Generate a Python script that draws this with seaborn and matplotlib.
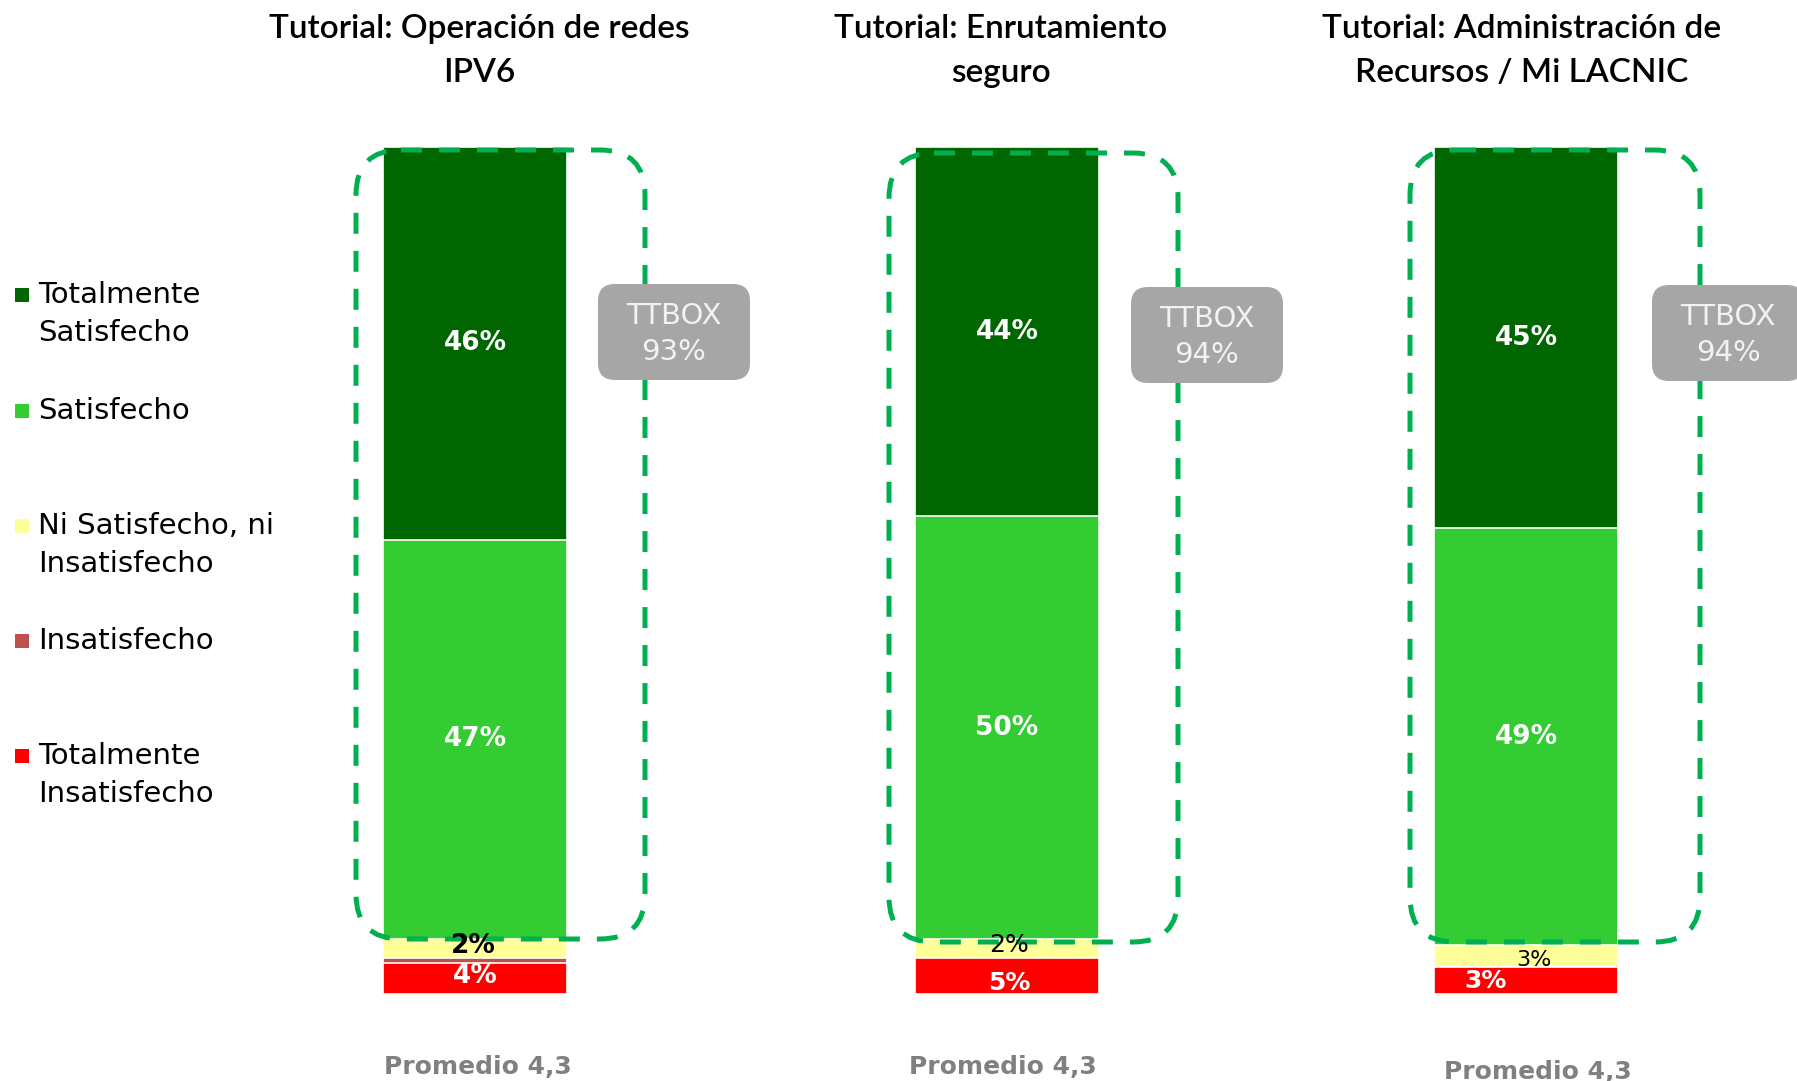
import matplotlib
matplotlib.use("Agg")
import numpy as np
import pandas as pd
import seaborn as sns
import matplotlib.pyplot as plt
from matplotlib.patches import FancyBboxPatch, Rectangle
from matplotlib.transforms import Affine2D, ScaledTranslation

# ---------------- data ----------------
tutorials = [
    "Tutorial: Operación de redes\nIPV6",
    "Tutorial: Enrutamiento\nseguro",
    "Tutorial: Administración de\nRecursos / Mi LACNIC",
]
categories = [
    "Totalmente\nSatisfecho",
    "Satisfecho",
    "Ni Satisfecho, ni\nInsatisfecho",
    "Insatisfecho",
    "Totalmente\nInsatisfecho",
]
# segment shares (%)
totalmente_satisfecho = [46.3, 43.6, 45.0]
satisfecho = [47.1, 49.9, 49.2]
ni_satisfecho_ni_insatisfecho = [2.2, 2.2, 2.6]
insatisfecho = [0.6, 0.0, 0.0]
totalmente_insatisfecho = [3.7, 4.3, 3.2]
# printed labels on the segments ("" = no label)
labels_totalmente_satisfecho = ["46%", "44%", "45%"]
labels_satisfecho = ["47%", "50%", "49%"]
labels_ni = ["2%", "2%", "3%"]
labels_insatisfecho = ["", "", ""]
labels_totalmente_insatisfecho = ["4%", "5%", "3%"]
ttbox = ["93%", "94%", "94%"]
promedio = ["4,3", "4,3", "4,3"]

colors = ["#006600", "#33CC33", "#FFFF99", "#C0504D", "#FF0000"]

series = [totalmente_satisfecho, satisfecho, ni_satisfecho_ni_insatisfecho,
          insatisfecho, totalmente_insatisfecho]
label_series = [labels_totalmente_satisfecho, labels_satisfecho, labels_ni,
                labels_insatisfecho, labels_totalmente_insatisfecho]

rows = []
for t_i, tut in enumerate(tutorials):
    for c_i, cat in enumerate(categories):
        rows.append(dict(tutorial=tut, categoria=cat, valor=series[c_i][t_i],
                         etiqueta=label_series[c_i][t_i]))
df = pd.DataFrame(rows)

# ---------------- figure ----------------
W, H = 1797, 1081
sns.set_style("white")
plt.rcParams["font.family"] = ["DejaVu Sans"]
fig = plt.figure(figsize=(W / 100, H / 100), dpi=100)
fig.patch.set_facecolor("white")

# pixel transform (origin top-left, y down)
px = Affine2D().scale(1 / W, -1 / H).translate(0, 1) + fig.transFigure

bar_centers = [475, 1007, 1526]
bar_top, bar_bottom = 147, 994
ax_half = 160
bar_width = 0.578

default_style = dict(color="white", weight="bold", size=19, dx=0, dy=0)
special = {
    (0, 2): dict(color="black", weight="bold", size=19, dx=-2, dy=-2),
    (0, 4): dict(color="white", weight="bold", size=19, dx=0, dy=-2),
    (1, 2): dict(color="black", weight="normal", size=18, dx=2, dy=-3),
    (1, 4): dict(color="white", weight="bold", size=18, dx=2, dy=7),
    (2, 2): dict(color="black", weight="normal", size=16, dx=8, dy=4),
    (2, 4): dict(color="white", weight="bold", size=18, dx=-40, dy=1),
}

for i, tut in enumerate(tutorials):
    c = bar_centers[i]
    ax = fig.add_axes([(c - ax_half) / W, (H - bar_bottom) / H,
                       2 * ax_half / W, (bar_bottom - bar_top) / H])
    sub = df[df["tutorial"] == tut].reset_index(drop=True)
    vals = sub["valor"].to_numpy(dtype=float)
    heights = vals / vals.sum() * 100.0
    cum = {}
    running = 0.0
    for k in list(range(len(categories)))[::-1]:
        running += heights[k]
        cum[k] = running
    for k in range(len(categories)):
        d = pd.DataFrame({"tutorial": [tut], "cum": [cum[k]]})
        sns.barplot(data=d, x="tutorial", y="cum", color=colors[k],
                    saturation=1, width=bar_width, edgecolor="white",
                    linewidth=1.2, errorbar=None, ax=ax)
    ax.set_xlim(-0.5, 0.5)
    ax.set_ylim(0, 100)
    ax.axis("off")

    for k in range(len(categories)):
        lab = sub.loc[k, "etiqueta"]
        if not lab:
            continue
        st = special.get((i, k), default_style)
        center = cum[k] - heights[k] / 2
        tr = ax.transData + ScaledTranslation(st["dx"] / 100, -st["dy"] / 100,
                                              fig.dpi_scale_trans)
        fig.text(0, center, lab, transform=tr, ha="center",
                 va="center", color=st["color"], fontweight=st["weight"],
                 fontsize=st["size"], zorder=6)

# ---------------- titles ----------------
title_x = [479, 1001, 1522]
for i, tut in enumerate(tutorials):
    fig.text(title_x[i], 51, tut, transform=px, ha="center", va="center",
             fontsize=24, family=["Lato", "DejaVu Sans"], fontweight="semibold",
             color="black", linespacing=1.55)

# ---------------- dashed frames ----------------
frames = [(356, 150, 645, 939), (889, 153, 1178, 942), (1410, 150, 1700, 942)]
for (x0, y0, x1, y1) in frames:
    p = FancyBboxPatch((x0, y0), x1 - x0, y1 - y0,
                       boxstyle="round,pad=0,rounding_size=45",
                       transform=px, fill=False, edgecolor="#00B050",
                       linewidth=3.6, linestyle=(0, (4.2, 3.4)), zorder=4)
    fig.add_artist(p)

# ---------------- TTBOX ----------------
tt_boxes = [(598, 284), (1131, 287), (1652, 285)]
for i, (bx, by) in enumerate(tt_boxes):
    p = FancyBboxPatch((bx, by), 152, 96,
                       boxstyle="round,pad=0,rounding_size=17",
                       transform=px, facecolor="#A6A6A6", edgecolor="none",
                       zorder=5)
    fig.add_artist(p)
    fig.text(bx + 76, by + 50, f"TTBOX\n{ttbox[i]}", transform=px,
             ha="center", va="center", color="#F2F2F2", fontsize=21,
             linespacing=1.4, zorder=6)

# ---------------- Promedio ----------------
prom_pos = [(478, 1067), (1003, 1067), (1538, 1072)]
for i, (x, y) in enumerate(prom_pos):
    fig.text(x, y, f"Promedio {promedio[i]}", transform=px, ha="center",
             va="center", color="#808080", fontweight="bold", fontsize=18)

# ---------------- legend ----------------
leg_y = [295, 411, 526, 641, 756]
for k, cat in enumerate(categories):
    y = leg_y[k]
    fig.add_artist(Rectangle((15, y - 7), 14, 14, transform=px,
                             facecolor=colors[k], edgecolor="none"))
    for j, line in enumerate(cat.split("\n")):
        fig.text(38, y + j * 38, line, transform=px, ha="left",
                 va="center", fontsize=21, color="black")

fig.savefig("out.png", dpi=100)
